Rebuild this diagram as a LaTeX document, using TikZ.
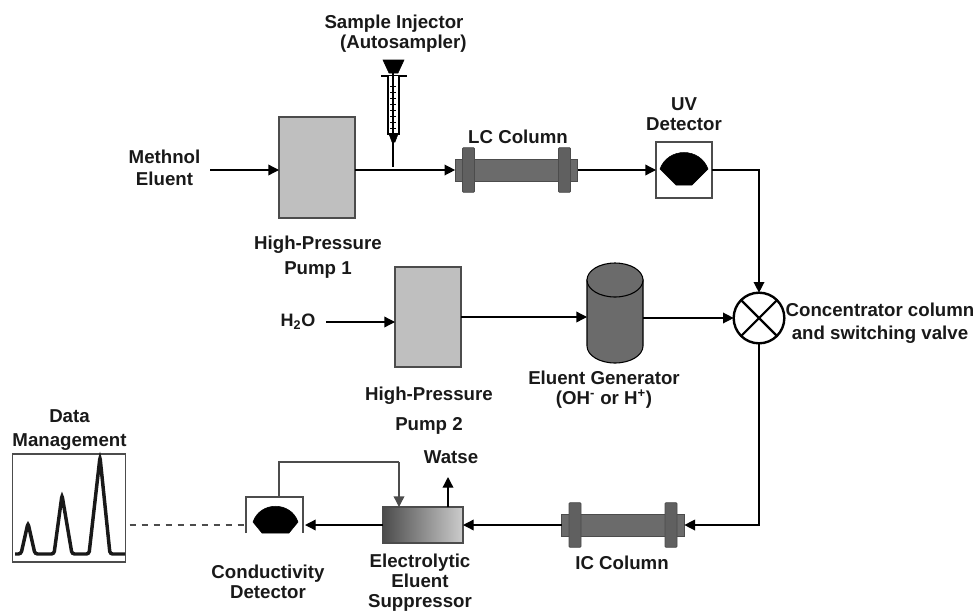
\documentclass[tikz,border=0pt]{standalone}
\usepackage{fontspec}
\setmainfont{Liberation Sans}
\usetikzlibrary{arrows.meta}
\definecolor{pumpgray}{gray}{0.75}
\definecolor{colgray}{gray}{0.42}
\definecolor{edgegray}{gray}{0.3}
\tikzset{
    label/.style={font=\bfseries\fontsize{14pt}{15pt}\selectfont, align=center, inner sep=0pt, text=black!90},
    flow/.style={line width=1pt, -{Triangle[length=8pt,width=8pt]}},
    pipe/.style={line width=1pt},
    pump/.style={draw=edgegray, line width=1pt, fill=pumpgray, inner sep=0pt, outer sep=0pt},
    column/.pic={
        \node[draw=edgegray, fill=colgray, line width=.6pt, minimum width=92pt, minimum height=16.5pt, inner sep=0pt, outer sep=0pt] (-body) at (0,0) {};
        \node[draw=edgegray, fill=colgray!90!black, line width=.6pt, rounded corners=.8pt, minimum width=9pt, minimum height=33.5pt, inner sep=0pt] at (-48,0) {};
        \node[draw=edgegray, fill=colgray!90!black, line width=.6pt, rounded corners=.8pt, minimum width=9pt, minimum height=33.5pt, inner sep=0pt] at (48,0) {};
    }
}
\begin{document}
\begin{tikzpicture}[x=0.75pt, y=-0.75pt]
    \useasboundingbox (0,0) rectangle (974,611);

    % horny rad
    \node[label] (methnol) at (164.5,168) {Methnol\\[1.5pt]Eluent};
    \node[pump, minimum width=57pt, minimum height=75.75pt] (pumpa) at (317,167.5) {};
    \node[label] (pumpatext) at (318,257.5) {High-Pressure\\[3.7pt]Pump 1};
    \pic (lc) at (516.5,170) {column};
    \node[label] (lctext) at (518,137) {LC Column};
    \node[draw=edgegray, fill=white, line width=1pt, minimum size=42pt, inner sep=0pt, outer sep=0pt] (uv) at (684,170) {};
    \node[label] (uvtext) at (684,114.5) {UV\\Detector};
    \draw[fill=black] (660,169) .. controls (668,147) and (700,147) .. (708,169) -- (692,185) -- (676,185) -- cycle;
    \coordinate (methout) at (210,170);
    \draw[flow] (methout) -- (pumpa.west |- methout);
    \draw[flow] (pumpa.east |- methout) -- (lc-body.west);
    \draw[flow] (lc-body.east) -- (uv.west);

    % davkovac
    \node[label] (injector) at (394,34) {Sample Injector\\\hspace*{14pt}(Autosampler)};
    \coordinate (needle) at (393,142);
    \coordinate (tee) at (393,167);
    \draw[fill=black] (383,60) -- (404,60) -- (398,73) -- (389,73) -- cycle;
    \draw[line width=1.6pt] (381,76) -- (407,76);
    \draw[line width=1.2pt, fill=white] (388,76) -- (388,134) -- (399,134) -- (399,76);
    \draw[line width=1.2pt] (393,72) -- (393,134);
    \foreach \y in {86,92,...,128}{
        \draw[line width=.6pt] (390,\y) -- (396,\y);
    }
    \draw[fill=black] (389,134) -- (398,134) -- (395,142) -- (392,142) -- cycle;
    \draw[pipe] (needle) -- (tee);

    % stredny rad
    \node[label, font=\bfseries\fontsize{13.5pt}{15pt}\selectfont] (water) at (298,322) {H\textsubscript{2}O};
    \node[pump, minimum width=49.5pt, minimum height=75pt] (pumpb) at (428,317) {};
    \node[label] (pumpbtext) at (429,411) {High-Pressure\\[7.5pt]Pump 2};
    \node[minimum width=42pt, minimum height=74pt, inner sep=0pt, outer sep=0pt] (gen) at (615,313) {};
    \draw[line width=.8pt, fill=colgray] (587,280) -- (587,346) arc[start angle=180, end angle=0, x radius=28, y radius=17] -- (643,280) -- cycle;
    \draw[line width=.8pt, fill=colgray] (615,280) ellipse [x radius=28, y radius=17];
    \node[label] (gentext) at (604,390) {Eluent Generator\\(OH\textsuperscript{-} or H\textsuperscript{+})};
    \node[circle, draw=black, fill=white, line width=1.8pt, minimum size=38pt, inner sep=0pt, outer sep=0pt] (valve) at (759,318) {};
    \draw[line width=1.6pt] (valve.45) -- (valve.225);
    \draw[line width=1.6pt] (valve.135) -- (valve.315);
    \node[label] (valvetext) at (880,323.5) {Concentrator column\\[2pt]and switching valve};
    \coordinate (waterin) at (326,322);
    \draw[flow] (waterin) -- (pumpb.west |- waterin);
    \draw[flow] (pumpb.east) -- (pumpb.east -| gen.west);
    \draw[flow] (gen.east |- valve) -- (valve.west);
    \draw[flow] (uv.east) -| (valve.north);

    % dolny rad
    \pic (ic) at (623,525) {column};
    \node[label] (ictext) at (622,563) {IC Column};
    \node[draw=edgegray, line width=1pt, left color=black!70, right color=black!20, minimum width=60pt, minimum height=27pt, inner sep=0pt, outer sep=0pt] (supp) at (423,525) {};
    \node[label] (supptext) at (420,582.5) {Electrolytic\\Eluent\\Suppressor};
    \node[label] (waste) at (451,457) {Watse};
    \coordinate (wastetip) at (448,477);
    \coordinate (detin) at (399,462);
    \draw[flow] (supp.north -| wastetip) -- (wastetip);
    \draw[flow] (valve.south) |- (ic-body.east);
    \draw[flow] (ic-body.west) -- (supp.east);

    % detektor vodivosti
    \coordinate (det) at (275,525);
    \coordinate (detleft) at (246,533);
    \coordinate (detright) at (303,533);
    \coordinate (dettop) at (279,497);
    \draw[line width=1pt, edgegray] (detleft) |- (dettop) -| (detright);
    \draw[fill=black] (253,522) .. controls (260,501) and (291,501) .. (298,522) -- (289,533) -- (262,533) -- cycle;
    \node[label] (dettext) at (268,582) {Conductivity\\Detector};
    \draw[flow] (supp.west) -- (305,525);
    \draw[pipe, edgegray] (dettop) |- (detin);
    \draw[flow, edgegray] (detin) -- (supp.north -| detin);

    % data
    \node[draw=edgegray, fill=white, line width=1pt, minimum width=85pt, minimum height=81pt, inner sep=0pt, outer sep=0pt] (data) at (69,508) {};
    \node[label] (datatext) at (69.5,430) {Data\\[2.5pt]Management};
    \draw[line width=2.6pt, rounded corners=2pt, black!90] (15,554) -- (21,554) -- (28,523) -- (35,554) -- (54,554) -- (62,495) -- (72,554) -- (89,554) -- (100,457) -- (110,554) -- (125,554);
    \draw[pipe, edgegray, dash pattern=on 5pt off 4pt] (data.east |- det) ++(4,0) -- (detleft |- det);
\end{tikzpicture}
\end{document}
